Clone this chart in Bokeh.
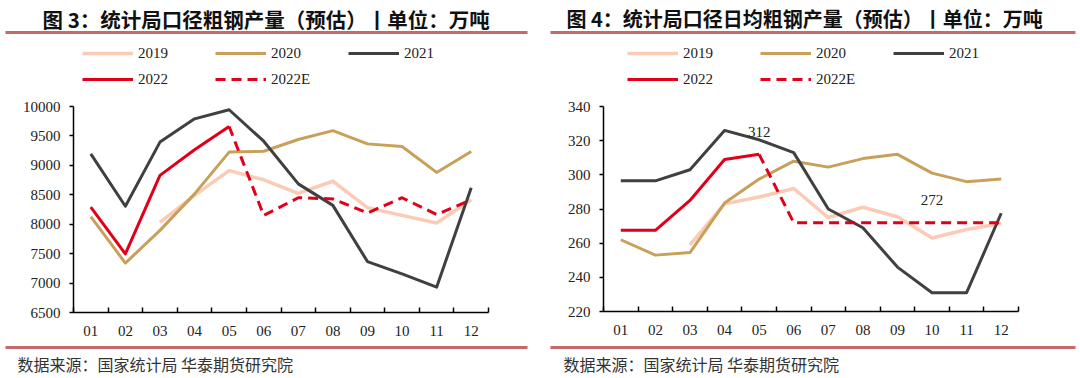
from bokeh.plotting import figure
from bokeh.models import Range1d, FixedTicker, Legend, LegendItem, Label, BoxAnnotation
from bokeh.layouts import row, column
from bokeh.embed import file_html
from bokeh.resources import INLINE

# ---------------- data ----------------
months = list(range(1, 13))
month_labels = ["01", "02", "03", "04", "05", "06", "07", "08", "09", "10", "11", "12"]
series_names = ["2019", "2020", "2021", "2022", "2022E"]

# Fig 3: monthly crude steel output (10k t)
L_2019_x = [3, 4, 5, 6, 7, 8, 9, 10, 11, 12]
L_2019 = [8030, 8490, 8910, 8755, 8525, 8730, 8280, 8150, 8020, 8415]
L_2020 = [8130, 7340, 7895, 8515, 9225, 9240, 9440, 9590, 9365, 9320, 8880, 9235]
L_2021 = [9195, 8305, 9395, 9790, 9945, 9410, 8685, 8320, 7365, 7155, 6930, 8620]
L_2022_x = [1, 2, 3, 4, 5]
L_2022 = [8290, 7495, 8830, 9265, 9660]
L_2022E_x = [5, 6, 7, 8, 9, 10, 11, 12]
L_2022E = [9660, 8150, 8450, 8430, 8190, 8450, 8165, 8415]
L_yticks = [6500, 7000, 7500, 8000, 8500, 9000, 9500, 10000]

# Fig 4: daily average crude steel output (10k t)
R_2019_x = [3, 4, 5, 6, 7, 8, 9, 10, 11, 12]
R_2019 = [259, 283, 287, 292, 275, 281, 275.5, 263, 268, 271.5]
R_2020 = [262, 253, 254.5, 283.5, 297.5, 308, 304.5, 309.5, 312, 301, 296, 297.5]
R_2021 = [296.5, 296.5, 303, 326, 320.5, 313, 280, 269, 246, 231, 231, 277.5]
R_2022_x = [1, 2, 3, 4, 5]
R_2022 = [267.5, 267.5, 285, 309, 312]
R_2022E_x = [5, 6, 7, 8, 9, 10, 11, 12]
R_2022E = [312, 272, 272, 272, 272, 272, 272, 272]
R_yticks = [220, 240, 260, 280, 300, 320, 340]

TITLE_L = "图 3：统计局口径粗钢产量（预估）丨单位：万吨"
TITLE_R = "图 4：统计局口径日均粗钢产量（预估）丨单位：万吨"
SOURCE = "数据来源：国家统计局  华泰期货研究院"

C2019 = "#FBCBB6"
C2020 = "#C8A05A"
C2021 = "#404040"
C2022 = "#E00019"
RULE = "#C46A68"
TXT = "#222222"
SERIF = "Liberation Serif"
CJK = "Noto Sans CJK SC"

STYLES = {
    "2019": dict(line_color=C2019, line_width=3.5, line_join="round"),
    "2020": dict(line_color=C2020, line_width=3, line_join="round"),
    "2021": dict(line_color=C2021, line_width=3, line_join="round"),
    "2022": dict(line_color=C2022, line_width=3, line_join="round"),
    "2022E": dict(line_color=C2022, line_width=3, line_dash="10 6"),
}

W = 540


def blank(h):
    f = figure(width=W, height=h, output_backend="svg", toolbar_location=None,
               x_range=Range1d(0, W), y_range=Range1d(h, 0),
               x_axis_location=None, y_axis_location=None,
               min_border=0, min_border_left=0, min_border_right=0,
               min_border_top=0, min_border_bottom=0, frame_align=False)
    f.outline_line_color = None
    f.grid.visible = False
    f.background_fill_color = "white"
    f.border_fill_color = "white"
    return f


def header(title, title_x, title_size, rule_l, rule_r, legend_x):
    h = blank(100)
    h.add_layout(Label(x=title_x, y=18, text=title, text_font=CJK, text_font_size=title_size,
                       text_font_style="bold", text_color="#111111",
                       text_align="left", text_baseline="middle"))
    h.add_layout(BoxAnnotation(left=rule_l, right=rule_r, top=30.5, bottom=33.5,
                               fill_color=RULE, fill_alpha=1, line_alpha=0))
    items = []
    for name in series_names:
        # legend swatch only: a single undefined point draws nothing in the header
        r = h.line([float("nan")], [float("nan")], **STYLES[name])
        items.append(LegendItem(label=name, renderers=[r]))
    legend = Legend(items=items, location=(legend_x, 100 - 89), orientation="horizontal", ncols=3,
                    glyph_width=51, glyph_height=20, label_width=71, label_height=20,
                    label_standoff=5, spacing=6, padding=0, margin=0,
                    border_line_alpha=0, background_fill_alpha=0,
                    label_text_font=SERIF, label_text_font_size="15px",
                    label_text_color=TXT)
    h.add_layout(legend, "center")
    return h


def footer(src_x, rule_l, rule_r):
    f = blank(33)
    f.add_layout(BoxAnnotation(left=rule_l, right=rule_r, top=0.5, bottom=3.5,
                               fill_color=RULE, fill_alpha=1, line_alpha=0))
    f.add_layout(Label(x=src_x, y=18, text=SOURCE, text_font=CJK,
                       text_font_size="16px", text_color="#333333",
                       text_align="left", text_baseline="middle"))
    return f


def main(ymin, ymax, yticks, s2019x, s2019, s2020, s2021, s2022x, s2022, sEx, sE,
         bl, br, fh):
    bt = 6
    bb = 245 - bt - fh
    p = figure(width=W, height=245, output_backend="svg", toolbar_location=None,
               x_range=Range1d(0.5, 12.5), y_range=Range1d(ymin, ymax),
               min_border_left=bl, min_border_right=br, min_border_top=bt, min_border_bottom=bb,
               frame_align=False)
    p.outline_line_color = None
    p.grid.visible = False
    p.background_fill_color = "white"
    p.border_fill_color = "white"

    p.line(s2019x, s2019, **STYLES["2019"])
    p.line(months, s2020, **STYLES["2020"])
    p.line(months, s2021, **STYLES["2021"])
    p.line(s2022x, s2022, **STYLES["2022"])
    p.line(sEx, sE, **STYLES["2022E"])

    ya = p.yaxis[0]
    ya.ticker = FixedTicker(ticks=yticks, minor_ticks=[])
    ya.axis_line_color = "black"
    ya.axis_line_width = 1.5
    ya.major_tick_line_color = "black"
    ya.major_tick_line_width = 1.5
    ya.major_tick_out = 4
    ya.major_tick_in = 0
    ya.minor_tick_line_color = None
    ya.major_label_standoff = 9
    ya.major_label_text_font = SERIF
    ya.major_label_text_font_size = "15px"
    ya.major_label_text_color = TXT

    xa = p.xaxis[0]
    xa.ticker = FixedTicker(ticks=months, minor_ticks=[m - 0.5 for m in months] + [12.5])
    xa.major_label_overrides = {m: lab for m, lab in zip(months, month_labels)}
    xa.axis_line_color = "black"
    xa.axis_line_width = 1.5
    xa.major_tick_line_color = None
    xa.major_tick_in = 0
    xa.major_tick_out = 0
    xa.minor_tick_line_color = "black"
    xa.minor_tick_line_width = 1.5
    xa.minor_tick_in = 5
    xa.minor_tick_out = 0
    xa.major_label_standoff = 13
    xa.major_label_text_font = SERIF
    xa.major_label_text_font_size = "15px"
    xa.major_label_text_color = TXT
    return p


pL = main(6500, 10000, L_yticks, L_2019_x, L_2019, L_2020, L_2021,
          L_2022_x, L_2022, L_2022E_x, L_2022E, 73, 52, 206)
pR = main(220, 340, R_yticks, R_2019_x, R_2019, R_2020, R_2021,
          R_2022_x, R_2022, R_2022E_x, R_2022E, 63, 62, 205)

# value labels on the daily chart
pR.add_layout(Label(x=R_2022_x[-1], y=R_2022[-1], y_offset=22, text=f"{R_2022[-1]:.0f}",
                    text_font=SERIF, text_font_size="15px", text_color=TXT,
                    text_align="center", text_baseline="middle"))
pR.add_layout(Label(x=R_2022E_x[5], y=R_2022E[5], y_offset=23, text=f"{R_2022E[5]:.0f}",
                    text_font=SERIF, text_font_size="15px", text_color=TXT,
                    text_align="center", text_baseline="middle"))

left = column(header(TITLE_L, 42, "20.5px", 5, 527, 82), pL, footer(17, 5, 527))
right = column(header(TITLE_R, 26, "20px", 10, 535, 87), pR, footer(23, 10, 535))

layout = row(left, right)
open("out.html", "w").write(file_html(layout, INLINE))
